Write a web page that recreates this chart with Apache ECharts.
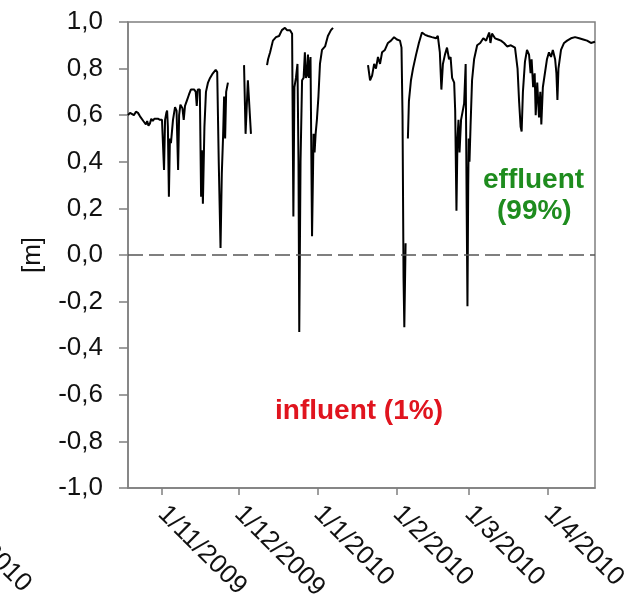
<!DOCTYPE html>
<html>
<head>
<meta charset="utf-8">
<script src="https://cdn.jsdelivr.net/npm/echarts@6/dist/echarts.min.js"></script>
<style>html,body{margin:0;padding:0;background:#fff}#c{width:636px;height:605px}</style>
</head>
<body>
<div id="c"></div>
<script>
// ---- data ----
const baseDate = [2009, 11, 1];            // day 0 = 1 Nov 2009
const xRangeDays = [-13.3, 169.4];         // visible range in days from baseDate
const tickLabels = ['1/11/2009','1/12/2009','1/1/2010','1/2/2010','1/3/2010','1/4/2010'];
const yTicks = [-1.0, 1.0, 0.2];           // min, max, step
const yName = '[m]';
const effluentText = ['effluent', '(99%)'];
const influentText = 'influent (1%)';

// days since 1 Nov 2009 (null level = gap in record)
const dayOffsets = [
 -13.3,-12.5,-11.8,-11.0,-10.2,-9.4,-8.6,-8.0,-7.3,-6.8,-6.3,-5.8,-5.3,-4.7,-4.2,-3.6,-3.0,-2.3,-1.6,-0.8,
 0.0,0.5,0.8,1.2,1.7,2.0,2.3,2.7,3.1,3.5,4.3,5.1,5.7,6.3,6.7,7.2,8.0,8.5,9.0,9.8,
 10.6,11.3,12.0,12.6,13.2,13.6,14.0,14.8,15.3,15.6,16.0,16.6,17.2,18.0,18.8,19.9,21.0,21.6,22.2,22.9,
 23.4,23.9,24.3,24.7,25.1,25.8,26.0,
 32.1,32.7,33.6,34.8,35.0,
 41.1,41.5,42.3,43.4,44.6,45.8,46.9,48.1,48.9,50.1,50.9,51.4,51.8,52.4,53.0,53.4,53.7,54.2,54.8,55.4,
 55.9,56.3,56.7,57.1,57.5,58.1,58.7,59.3,59.7,60.1,60.6,61.2,61.8,62.6,63.8,64.9,66.1,66.9,67.2,
 80.6,81.4,82.2,83.0,83.7,84.5,85.3,86.1,87.2,88.4,89.6,90.8,91.9,93.1,93.7,94.1,94.5,94.8,95.3,95.6,
 96.2,96.6,97.4,98.2,99.4,100.5,101.7,102.9,104.1,105.6,107.2,107.9,108.7,109.3,109.9,110.7,111.5,112.3,112.9,113.5,
 114.3,114.7,115.2,115.6,116.0,116.4,117.0,117.6,118.2,118.8,119.2,119.5,119.8,120.0,120.3,120.7,121.3,122.1,123.3,124.5,
 125.7,126.8,128.0,128.5,129.1,130.3,131.5,132.6,133.8,135.0,136.5,138.1,139.1,139.7,140.3,140.7,141.2,142.0,142.8,143.6,
 144.2,144.6,145.2,145.8,146.2,146.8,147.5,148.0,148.4,149.0,149.8,150.6,151.4,152.2,152.9,153.8,154.3,154.7,155.1,156.1,
 157.3,158.5,160.0,161.6,163.2,164.8,166.3,167.8,169.4
];
const levels = [
 0.60,0.61,0.605,0.60,0.615,0.61,0.595,0.59,0.575,0.57,0.56,0.575,0.555,0.565,0.585,0.575,0.585,0.58,0.585,0.58,
 0.58,0.575,0.365,0.58,0.61,0.62,0.55,0.25,0.50,0.48,0.58,0.635,0.62,0.365,0.60,0.645,0.63,0.58,0.64,0.665,
 0.69,0.71,0.715,0.71,0.70,0.64,0.71,0.71,0.25,0.45,0.22,0.55,0.70,0.74,0.76,0.78,0.795,0.785,0.40,0.03,
 0.35,0.51,0.68,0.50,0.70,0.74,null,
 0.815,0.52,0.75,0.52,null,
 0.815,0.84,0.87,0.92,0.935,0.94,0.965,0.975,0.965,0.965,0.95,0.165,0.72,0.76,0.82,0.40,-0.33,0.40,0.75,0.76,
 0.87,0.76,0.77,0.86,0.76,0.85,0.08,0.52,0.44,0.52,0.58,0.68,0.82,0.88,0.895,0.94,0.965,0.975,null,
 0.815,0.75,0.77,0.82,0.80,0.85,0.82,0.87,0.88,0.91,0.92,0.935,0.925,0.92,0.89,0.60,-0.10,-0.31,0.05,null,
 0.50,0.66,0.75,0.80,0.86,0.91,0.955,0.945,0.94,0.935,0.93,0.94,0.87,0.71,0.82,0.86,0.89,0.84,0.85,0.76,
 0.74,0.62,0.19,0.50,0.58,0.44,0.58,0.58,0.65,0.82,0.20,-0.22,0.30,0.50,0.40,0.55,0.75,0.84,0.90,0.91,
 0.93,0.92,0.955,0.91,0.95,0.93,0.925,0.92,0.91,0.895,0.90,0.89,0.80,0.66,0.55,0.53,0.70,0.83,0.88,0.86,
 0.78,0.84,0.72,0.78,0.60,0.74,0.59,0.70,0.56,0.72,0.78,0.84,0.87,0.85,0.88,0.84,0.78,0.665,0.80,0.88,
 0.91,0.92,0.93,0.935,0.93,0.925,0.92,0.91,0.915
];

// ---- build ----
const DAY = 86400000;
const t0 = Date.UTC(baseDate[0], baseDate[1] - 1, baseDate[2]);
const seriesData = dayOffsets.map((d, i) => [d, levels[i] === null ? '-' : levels[i]]);
const tickDays = tickLabels.map(s => { const p = s.split('/').map(Number); return Math.round((Date.UTC(p[2], p[1] - 1, p[0]) - t0) / DAY); });
const labelOf = {}; tickDays.forEach((d, i) => labelOf[d] = tickLabels[i]);

const FONT = '"Liberation Sans", Arial, sans-serif';
const axisGray = '#7f7f7f';

const chart = echarts.init(document.getElementById('c'), null, {renderer: 'canvas'});
chart.setOption({
  animation: false,
  backgroundColor: '#fff',
  grid: {left: 128, right: 41, top: 22, bottom: 117, show: true, borderColor: axisGray, borderWidth: 1.5, backgroundColor: 'transparent'},
  xAxis: {
    type: 'value',
    min: xRangeDays[0],
    max: xRangeDays[1],
    axisLine: {show: true, onZero: false, lineStyle: {color: axisGray, width: 1.5}},
    axisTick: {show: true, length: 7, lineStyle: {color: axisGray, width: 1.5}, customValues: tickDays},
    axisLabel: {
      customValues: tickDays, rotate: -45, margin: 22,
      fontFamily: FONT, fontSize: 26, color: '#111',
      formatter: v => labelOf[Math.round(v)] || ''
    },
    splitLine: {show: false}
  },
  yAxis: {
    type: 'value', min: yTicks[0], max: yTicks[1], interval: yTicks[2],
    name: yName, nameLocation: 'middle', nameRotate: 90, nameGap: 82,
    nameTextStyle: {fontFamily: FONT, fontSize: 26, color: '#111'},
    axisLine: {show: true, onZero: false, lineStyle: {color: axisGray, width: 1.5}},
    axisTick: {show: true, length: 9, inside: false, lineStyle: {color: axisGray, width: 1.5}},
    axisLabel: {margin: 25, fontFamily: FONT, fontSize: 26, color: '#111',
      formatter: v => (Math.abs(v) < 1e-9 ? 0 : v).toFixed(1).replace('.', ',')},
    splitLine: {show: false}
  },
  series: [{
    type: 'line',
    data: seriesData,
    showSymbol: false,
    connectNulls: false,
    lineStyle: {color: '#000', width: 2},
    markLine: {
      silent: true, symbol: ['none', 'none'],
      label: {show: false},
      lineStyle: {color: '#555', width: 1.5, type: [15, 6]},
      data: [{yAxis: 0}]
    }
  }],
  graphic: [
    {type: 'text', left: 483, top: 166, style: {text: effluentText[0], font: 'bold 28px ' + FONT, fill: '#1e8c1e'}},
    {type: 'text', left: 497, top: 197, style: {text: effluentText[1], font: 'bold 28px ' + FONT, fill: '#1e8c1e'}},
    {type: 'text', left: 275, top: 397, style: {text: influentText, font: 'bold 28px ' + FONT, fill: '#e0141e'}},
    {type: 'text', x: 27, y: 588, rotation: -Math.PI / 4, style: {text: '1/5/2010', font: '26px ' + FONT, fill: '#111', align: 'right', verticalAlign: 'middle'}}
  ]
});
</script>
</body>
</html>
